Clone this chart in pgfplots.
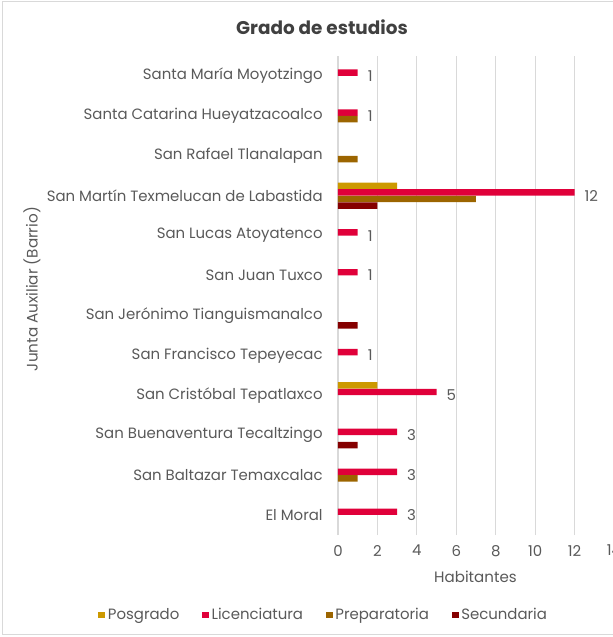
\documentclass[border=0pt]{standalone}
\usepackage{pgfplots}
\pgfplotsset{compat=1.18}
\usepackage{fontspec}
\setmainfont{Poppins}
\definecolor{cPos}{HTML}{CC9900}
\definecolor{cLic}{HTML}{E0003A}
\definecolor{cPre}{HTML}{9C6500}
\definecolor{cSec}{HTML}{850000}
\definecolor{txt}{HTML}{595959}
\definecolor{ttl}{HTML}{404040}
\definecolor{gridc}{HTML}{D9D9D9}
\begin{document}
\begin{tikzpicture}
\path[use as bounding box] (0,0) rectangle (459.75pt,477.75pt);
\draw[gridc, line width=0.75pt] (1.5pt,1.5pt) rectangle (470pt,476.25pt);
\node[font=\fontsize{13.8}{16}\selectfont\bfseries, text=ttl] at (241.5pt,457.5pt) {Grado de estudios};
\node[font=\fontsize{11.4}{13}\selectfont, text=txt, rotate=90] at (24pt,261pt) {Junta Auxiliar (Barrio)};
\node[font=\fontsize{11.3}{13}\selectfont, text=txt] at (356.6pt,45pt) {Habitantes};
\begin{axis}[
  at={(253.5pt,76.5pt)}, anchor=south west,
  scale only axis, width=207pt, height=359.25pt,
  xbar, bar width=0.16,
  xmin=0, xmax=14, ymin=-0.5, ymax=11.5,
  xtick={0,2,...,14}, ytick={0,...,11},
  yticklabels={El Moral, San Baltazar Temaxcalac, San Buenaventura Tecaltzingo, San Cristóbal Tepatlaxco, San Francisco Tepeyecac, San Jerónimo Tianguismanalco, San Juan Tuxco, San Lucas Atoyatenco, San Martín Texmelucan de Labastida, San Rafael Tlanalapan, Santa Catarina Hueyatzacoalco, Santa María Moyotzingo},
  axis line style={draw=none},
  major tick length=0pt,
  xmajorgrids, major grid style={gridc, line width=0.9pt},
  /pgf/number format/assume math mode=true,
  tick label style={font=\fontsize{11.2}{13}\selectfont, text=txt},
  yticklabel style={xshift=-8pt},
  xticklabel style={yshift=-4pt},
  clip=false,
  legend columns=4,
  legend style={draw=none, fill=none, at={(-0.0507,-0.167)}, anchor=center,
    font=\fontsize{11.2}{13}\selectfont, text=txt,
    /tikz/every even column/.append style={column sep=15pt}},
  legend image code/.code={\fill[#1] (0pt,-2.6pt) rectangle (5.2pt,2.6pt);},
]
\addplot[fill=cPos, draw=none, bar shift=0.25] coordinates {(3,8) (2,3)};
\addlegendentry{Posgrado}
\addplot[fill=cLic, draw=none, bar shift=0.083,
  nodes near coords, every node near coord/.append style={font=\fontsize{11.2}{13}\selectfont, text=txt, xshift=4pt, yshift=-0.083*40*0.75pt}]
  coordinates {(3,0) (3,1) (3,2) (5,3) (1,4) (1,6) (1,7) (12,8) (1,10) (1,11)};
\addlegendentry{Licenciatura}
\addplot[fill=cPre, draw=none, bar shift=-0.083] coordinates {(1,1) (7,8) (1,9) (1,10)};
\addlegendentry{Preparatoria}
\addplot[fill=cSec, draw=none, bar shift=-0.25] coordinates {(1,2) (1,5) (2,8)};
\addlegendentry{Secundaria}
\end{axis}
\end{tikzpicture}
\end{document}
